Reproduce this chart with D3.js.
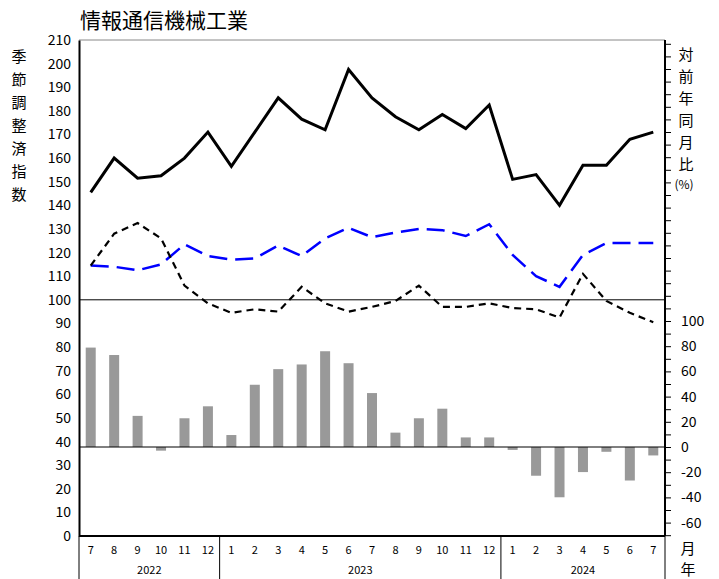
<!DOCTYPE html>
<html><head><meta charset="utf-8">
<script src="https://cdn.jsdelivr.net/npm/d3@7"></script>
<style>body{margin:0;background:#fff}text{font-family:"Noto Sans CJK JP","Noto Sans",sans-serif}</style>
</head><body><div id="chart"></div>
<script>
const months = ["7","8","9","10","11","12","1","2","3","4","5","6","7","8","9","10","11","12","1","2","3","4","5","6","7"];
const years = [{label:"2022", from:0, to:6}, {label:"2023", from:6, to:18}, {label:"2024", from:18, to:25}];
const yoy = [78.9,73,24.7,-2.9,22.8,32.3,9.5,49.4,61.8,65.5,76,66.5,42.8,11.4,22.8,30.4,7.6,7.6,-2.3,-22.8,-39.9,-19.9,-3.8,-26.6,-6.7];
const production = [145.5,160,151.5,152.5,160,171,156.5,171,185.5,176.5,172,197.5,185.5,177.5,172,178.5,172.5,182.5,151,153,140,157,157,168,171];
const blueDash = [114.5,114,112.5,115,123.5,118.5,117,117.5,123,118.5,126,130.5,126.5,128.5,130,129.5,127,132,119,110,105.5,119,124,124,124];
const blackDash = [114.5,128,132.5,126,106,98.5,94.5,96,95,105.5,98.5,95,97,99.5,106,97,97,98.5,96.5,96,92.5,111,99.5,94.5,90.5];

const W = 719, H = 579, L = 79, R = 665, T = 40, B = 536;
const svg = d3.select("#chart").append("svg").attr("width", W).attr("height", H);

const x = d3.scaleBand().domain(d3.range(months.length)).range([L, R]);
const y = d3.scaleLinear().domain([0, 210]).range([B, T]);
const zeroY = 447, hundredY = 321;
const y2 = d3.scaleLinear().domain([0, 100]).range([zeroY, hundredY]);

// 枠
svg.append("line").attr("x1", L).attr("x2", R).attr("y1", T).attr("y2", T).attr("stroke", "#888");

// 棒
svg.selectAll(".bar").data(yoy).enter().append("rect")
    .attr("x", (d, i) => x(i) + x.bandwidth() / 2 - 5)
    .attr("width", 10)
    .attr("y", d => Math.min(y2(d), y2(0)))
    .attr("height", d => Math.abs(y2(d) - y2(0)))
    .attr("fill", "#999");

// 基準線
svg.append("line").attr("x1", L).attr("x2", R).attr("y1", y(100)).attr("y2", y(100)).attr("stroke", "#000");
svg.append("line").attr("x1", L).attr("x2", R).attr("y1", y2(0)).attr("y2", y2(0)).attr("stroke", "#000");

const line = d3.line().x((d, i) => x(i) + x.bandwidth() / 2).y(d => y(d));
svg.append("path").datum(production).attr("d", line).attr("fill", "none").attr("stroke", "#000").attr("stroke-width", 3);
svg.append("path").datum(blueDash).attr("d", line).attr("fill", "none").attr("stroke", "#00f").attr("stroke-width", 2.5).attr("stroke-dasharray", "18,8");
svg.append("path").datum(blackDash).attr("d", line).attr("fill", "none").attr("stroke", "#000").attr("stroke-width", 2.2).attr("stroke-dasharray", "7,5");

// 左軸
const ax = svg.append("g").attr("transform", `translate(${L},0)`)
    .call(d3.axisLeft(y).tickValues(d3.range(0, 211, 10)).tickSize(0).tickPadding(8));
ax.select(".domain").attr("stroke", "#000").attr("stroke-width", 2);
ax.selectAll("text").attr("font-size", 14).attr("fill", "#000");

// 右軸
const rTicks = d3.range(-70, 321, 10).filter(v => y2(v) >= T - 1 && y2(v) <= B);
const ar = svg.append("g").attr("transform", `translate(${R},0)`)
    .call(d3.axisRight(y2).tickValues(rTicks).tickSize(6).tickPadding(10)
        .tickFormat(v => (v % 20 === 0 && v >= -60 && v <= 100) ? v : ""));
ar.select(".domain").attr("d", `M0,${T}V${B}`).attr("stroke", "#000").attr("stroke-width", 2);
ar.selectAll("text").attr("font-size", 14).attr("fill", "#000");

// 下軸
svg.append("line").attr("x1", L).attr("x2", R).attr("y1", B).attr("y2", B).attr("stroke", "#000").attr("stroke-width", 2);
svg.selectAll(".mon").data(months).enter().append("text")
    .attr("x", (d, i) => x(i) + x.bandwidth() / 2).attr("y", 554)
    .attr("text-anchor", "middle").attr("font-size", 11).text(d => d);
years.forEach(yr => {
    svg.append("line").attr("x1", x(yr.from)).attr("x2", x(yr.from)).attr("y1", B).attr("y2", H).attr("stroke", "#000");
    svg.append("text").attr("x", (x(yr.from) + (yr.to < months.length ? x(yr.to) : R)) / 2).attr("y", 574)
        .attr("text-anchor", "middle").attr("font-size", 11).text(yr.label);
});
svg.append("line").attr("x1", R).attr("x2", R).attr("y1", B).attr("y2", H).attr("stroke", "#000");

// タイトル・軸ラベル
svg.append("text").attr("x", 80).attr("y", 28).attr("font-size", 21).text("情報通信機械工業");
"季節調整済指数".split("").forEach((c, i) =>
    svg.append("text").attr("x", 19).attr("y", 62 + i * 23).attr("text-anchor", "middle").attr("font-size", 15).text(c));
"対前年同月比".split("").forEach((c, i) =>
    svg.append("text").attr("x", 686).attr("y", 60 + i * 22).attr("text-anchor", "middle").attr("font-size", 15).text(c));
svg.append("text").attr("x", 684).attr("y", 189).attr("text-anchor", "middle").attr("font-size", 12).text("(%)");
svg.append("text").attr("x", 688).attr("y", 554).attr("text-anchor", "middle").attr("font-size", 15).text("月");
svg.append("text").attr("x", 688).attr("y", 575).attr("text-anchor", "middle").attr("font-size", 15).text("年");
</script></body></html>
